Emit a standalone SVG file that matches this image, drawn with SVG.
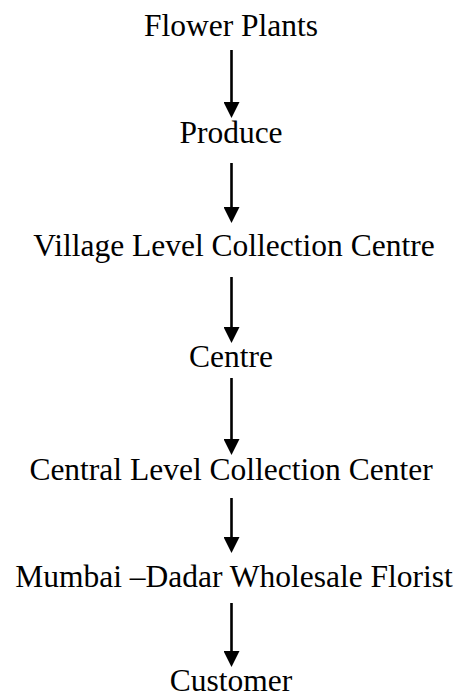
<svg xmlns="http://www.w3.org/2000/svg" width="462" height="698" viewBox="0 0 462 698">
<defs>
<style>
.t{font-family:"Liberation Serif","Times New Roman",serif;font-size:31.5px;fill:#000;text-anchor:middle}
.c{stroke:#000;stroke-width:2.6;fill:none}
</style>
<marker id="ah" viewBox="0 0 16 16" refX="8" refY="8" markerWidth="16" markerHeight="16" markerUnits="userSpaceOnUse" orient="auto">
<path d="M0,0 L16,8 L0,16 z" fill="#000"/>
</marker>
</defs>
<rect width="462" height="698" fill="#fff"/>
<g id="connectors">
<line class="c" x1="231.5" y1="50" x2="231.5" y2="110" marker-end="url(#ah)"/>
<line class="c" x1="231.5" y1="163" x2="231.5" y2="215" marker-end="url(#ah)"/>
<line class="c" x1="231.5" y1="277" x2="231.5" y2="335" marker-end="url(#ah)"/>
<line class="c" x1="231.5" y1="378" x2="231.5" y2="447" marker-end="url(#ah)"/>
<line class="c" x1="231.5" y1="498" x2="231.5" y2="545" marker-end="url(#ah)"/>
<line class="c" x1="231.5" y1="603" x2="231.5" y2="659" marker-end="url(#ah)"/>
</g>
<g id="n1"><text class="t" x="231" y="36">Flower Plants</text></g>
<g id="n2"><text class="t" x="231" y="143">Produce</text></g>
<g id="n3"><text class="t" x="234" y="256">Village Level Collection Centre</text></g>
<g id="n4"><text class="t" x="231" y="367">Centre</text></g>
<g id="n5"><text class="t" x="231" y="480">Central Level Collection Center</text></g>
<g id="n6"><text class="t" x="234" y="587">Mumbai –Dadar Wholesale Florist</text></g>
<g id="n7"><text class="t" x="231" y="691">Customer</text></g>
</svg>
